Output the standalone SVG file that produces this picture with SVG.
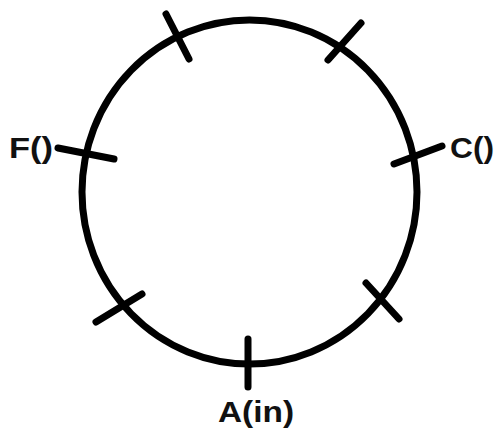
<svg xmlns="http://www.w3.org/2000/svg" width="495" height="429" viewBox="0 0 495 429">
<style>
.ring{fill:none;stroke:#000;stroke-width:7}
.tick{stroke:#000;stroke-width:7;stroke-linecap:round}
.lbl{font-family:"Liberation Sans",Arial,sans-serif;font-weight:bold;font-size:29px;fill:#111}
</style>
<rect width="495" height="429" fill="#fff"/>
<g id="ring"><ellipse class="ring" cx="249.5" cy="192" rx="167.5" ry="172"/></g>
<g id="connectors">
<line class="tick" x1="166" y1="14" x2="189" y2="59"/>
<line class="tick" x1="361" y1="23" x2="328" y2="60"/>
<line class="tick" x1="58" y1="148" x2="114" y2="159"/>
<line class="tick" x1="394" y1="164" x2="442" y2="146"/>
<line class="tick" x1="96" y1="322" x2="142" y2="294"/>
<line class="tick" x1="366" y1="283" x2="399" y2="319"/>
<line class="tick" x1="248" y1="339" x2="248" y2="387"/>
</g>
<g id="node-F"><text class="lbl" x="9" y="158" textLength="44" lengthAdjust="spacingAndGlyphs">F()</text></g>
<g id="node-C"><text class="lbl" x="450" y="158" textLength="44" lengthAdjust="spacingAndGlyphs">C()</text></g>
<g id="node-A"><text class="lbl" x="218" y="422" textLength="76" lengthAdjust="spacingAndGlyphs">A(in)</text></g>
</svg>
